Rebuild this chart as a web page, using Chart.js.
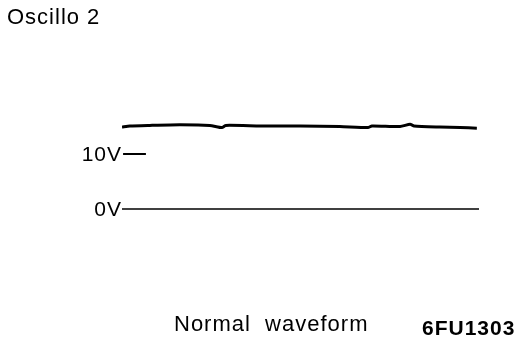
<!DOCTYPE html>
<html>
<head>
<meta charset="utf-8">
<script src="https://cdn.jsdelivr.net/npm/chart.js@4"></script>
<style>
  html, body { margin: 0; padding: 0; background: #fff; }
  canvas { display: block; }
</style>
</head>
<body>
<canvas id="scope" width="528" height="346"></canvas>
<script>
// trace (time in % of screen, volts)
const traceTime = [0, 2.2, 7.8, 16.2, 24.6, 28, 29.1, 38.7, 49.9, 61, 68.9, 70, 77.9, 80.7, 81.8, 89, 94.7, 99.4];
const traceVolts = [14.9, 15.1, 15.2, 15.3, 15.2, 14.8, 15.2, 15.1, 15.1, 15.0, 14.8, 15.1, 15.0, 15.4, 15.1, 14.9, 14.8, 14.7];
const zeroTime = [0, 100];
const zeroVolts = [0, 0];
const markTime = [0.3, 6.7];
const markVolts = [10, 10];
const tickValues = [10, 0];
const tickLabels = ['10V', '0V'];

function pts(xs, ys) {
    return xs.map((x, i) => ({ x: x, y: ys[i] }));
}

// draws the volt labels and the captions
const textPlugin = {
    id: 'scopeText',
    afterDraw(chart) {
        const ctx = chart.ctx;
        const y = chart.scales.y;
        const left = chart.chartArea.left;
        ctx.save();
        ctx.fillStyle = '#000';
        ctx.textBaseline = 'middle';
        ctx.font = '21px "Liberation Sans", Arial, sans-serif';
        ctx.letterSpacing = '1px';
        ctx.textAlign = 'right';
        tickValues.forEach((v, i) => {
            ctx.fillText(tickLabels[i], left, y.getPixelForValue(v) + 1);
        });
        ctx.textAlign = 'left';
        ctx.font = '22px "Liberation Sans", Arial, sans-serif';
        ctx.fillText('Oscillo 2', 7, 18);
        ctx.fillText('Normal  waveform', 174, 325);
        ctx.font = 'bold 21px "Liberation Sans", Arial, sans-serif';
        ctx.fillText('6FU1303', 422, 329);
        ctx.restore();
    }
};

new Chart(document.getElementById('scope'), {
    type: 'line',
    data: {
        datasets: [
            { data: pts(traceTime, traceVolts), borderColor: '#000', borderWidth: 3, pointRadius: 0, tension: 0.2 },
            { data: pts(zeroTime, zeroVolts), borderColor: '#000', borderWidth: 1.5, pointRadius: 0 },
            { data: pts(markTime, markVolts), borderColor: '#000', borderWidth: 1.8, pointRadius: 0 }
        ]
    },
    options: {
        responsive: false,
        animation: false,
        layout: { padding: { left: 122, right: 49, top: 99, bottom: 109.5 } },
        plugins: { legend: { display: false }, tooltip: { enabled: false } },
        scales: {
            x: { type: 'linear', min: 0, max: 100, display: false },
            y: { min: -5, max: 20, display: false }
        }
    },
    plugins: [textPlugin]
});
</script>
</body>
</html>
